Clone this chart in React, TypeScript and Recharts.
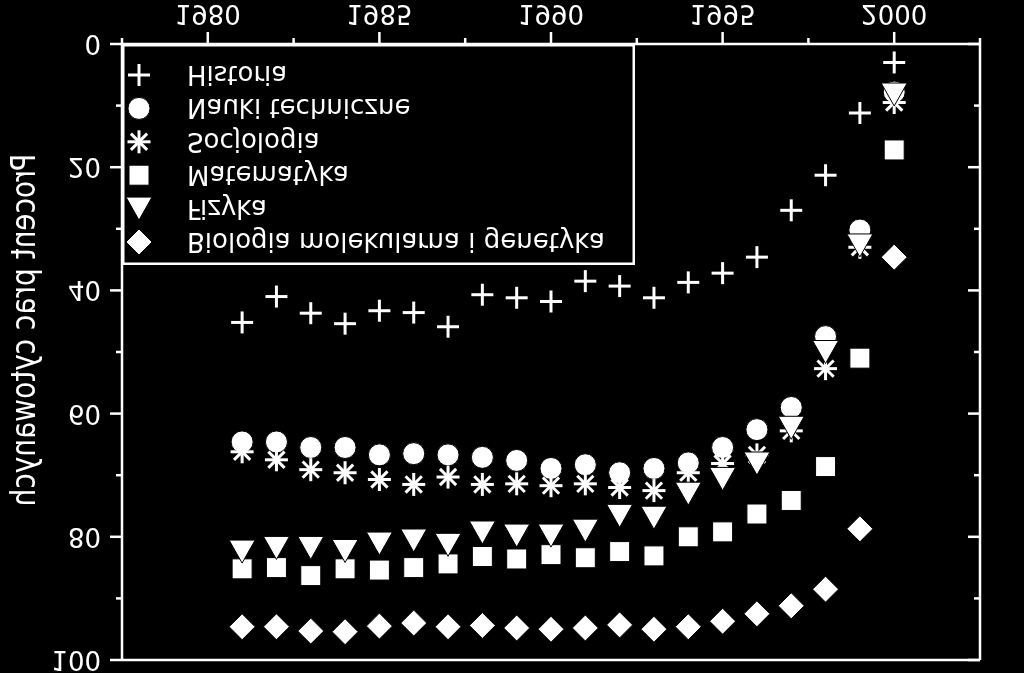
import { ScatterChart, Scatter, XAxis, YAxis, Legend, Label } from 'recharts';

// years on the horizontal axis
const years = [
    1981, 1982, 1983, 1984, 1985, 1986, 1987, 1988, 1989, 1990,
    1991, 1992, 1993, 1994, 1995, 1996, 1997, 1998, 1999, 2000,
];

const historia = [45.2, 41.0, 43.7, 45.4, 43.3, 43.6, 45.9, 40.7, 41.2, 41.8, 38.5, 39.3, 41.2, 38.7, 37.2, 34.6, 27.0, 21.3, 11.2, 3.0];
const naukiTechniczne = [64.6, 64.6, 65.5, 65.5, 66.7, 66.5, 66.7, 67.1, 67.6, 68.9, 68.3, 69.6, 68.9, 68.0, 65.5, 62.6, 59.0, 47.5, 30.2, 7.8];
const socjologia = [66.2, 67.5, 69.1, 69.6, 70.7, 71.5, 70.3, 71.5, 71.4, 71.7, 71.4, 72.0, 72.5, 69.6, 68.1, 66.7, 62.8, 52.7, 33.0, 9.5];
const matematyka = [85.2, 85.0, 86.3, 85.2, 85.4, 85.0, 84.4, 83.2, 83.6, 82.9, 83.4, 82.4, 83.1, 80.0, 79.2, 76.3, 74.1, 68.6, 51.0, 17.2];
const fizyka = [82.4, 81.8, 81.8, 82.3, 81.1, 80.6, 81.3, 79.3, 79.8, 79.8, 79.0, 76.6, 76.9, 73.0, 70.6, 68.1, 62.3, 50.0, 32.7, 8.2];
const biologia = [94.6, 94.6, 95.3, 95.4, 94.5, 94.0, 94.6, 94.4, 94.8, 95.0, 94.8, 94.3, 95.0, 94.6, 93.7, 92.5, 91.2, 88.5, 78.7, 34.6];

const xTicks = [1977.5, 1980, 1982.5, 1985, 1987.5, 1990, 1992.5, 1995, 1997.5, 2000, 2002.5];
const yTicks = [0, 10, 20, 30, 40, 50, 60, 70, 80, 90, 100];

const series = [
    { name: 'Historia', kind: 'plus', values: historia },
    { name: 'Nauki techniczne', kind: 'circle', values: naukiTechniczne },
    { name: 'Socjologia', kind: 'asterisk', values: socjologia },
    { name: 'Matematyka', kind: 'square', values: matematyka },
    { name: 'Fizyka', kind: 'triangle', values: fizyka },
    { name: 'Biologia molekularna i genetyka', kind: 'diamond', values: biologia },
];

const WHITE = '#fff';
const FONT = '"DejaVu Sans", sans-serif';

function Marker({ kind, cx, cy }: { kind: string; cx: number; cy: number }) {
    switch (kind) {
        case 'plus':
            return (
                <g stroke={WHITE} strokeWidth={3}>
                    <line x1={cx - 11} y1={cy} x2={cx + 11} y2={cy} />
                    <line x1={cx} y1={cy - 11} x2={cx} y2={cy + 11} />
                </g>
            );
        case 'circle':
            return <circle cx={cx} cy={cy} r={11} fill={WHITE} stroke="#000" strokeWidth={1} />;
        case 'asterisk':
            return (
                <g stroke={WHITE} strokeWidth={3}>
                    {[0, 45, 90, 135].map(a => {
                        const r = (a * Math.PI) / 180;
                        const dx = Math.cos(r) * 11.5;
                        const dy = Math.sin(r) * 11.5;
                        return <line key={a} x1={cx - dx} y1={cy - dy} x2={cx + dx} y2={cy + dy} />;
                    })}
                </g>
            );
        case 'square':
            return <rect x={cx - 10} y={cy - 10} width={20} height={20} fill={WHITE} stroke="#000" strokeWidth={1} />;
        case 'triangle':
            // drawn pointing up: the whole figure is mirrored vertically
            return (
                <polygon
                    points={`${cx},${cy - 11.5} ${cx + 13},${cy + 11.5} ${cx - 13},${cy + 11.5}`}
                    fill={WHITE}
                    stroke="#000"
                    strokeWidth={1}
                />
            );
        default:
            return (
                <polygon
                    points={`${cx},${cy - 13} ${cx + 13},${cy} ${cx},${cy + 13} ${cx - 13},${cy}`}
                    fill={WHITE}
                    stroke="#000"
                    strokeWidth={1}
                />
            );
    }
}

const tickLen = (major: boolean) => (major ? 12 : 6);

const renderXTick = (side: 'bottom' | 'top') => (props: any) => {
    const { x, y, payload } = props;
    const v = payload.value;
    const major = v % 5 === 0;
    const len = tickLen(major);
    if (side === 'top') {
        return <line x1={x} x2={x} y1={y} y2={y + len} stroke={WHITE} strokeWidth={2.5} />;
    }
    return (
        <g>
            <line x1={x} x2={x} y1={y} y2={y + len} stroke={WHITE} strokeWidth={2.5} />
            {major && (
                <text x={x} y={y + 30} textAnchor="middle" dominantBaseline="central" fill={WHITE} fontSize={26} fontFamily={FONT}>
                    {v}
                </text>
            )}
        </g>
    );
};

const renderYTick = (side: 'left' | 'right') => (props: any) => {
    const { x, y, payload } = props;
    const v = payload.value;
    const major = v % 20 === 0;
    const len = tickLen(major);
    if (side === 'right') {
        return <line x1={x - len} x2={x} y1={y} y2={y} stroke={WHITE} strokeWidth={2.5} />;
    }
    return (
        <g>
            <line x1={x - len} x2={x} y1={y} y2={y} stroke={WHITE} strokeWidth={2.5} />
            {major && (
                <text x={x - 21} y={y} textAnchor="end" dominantBaseline="central" fill={WHITE} fontSize={26} fontFamily={FONT}>
                    {v}
                </text>
            )}
        </g>
    );
};

function LegendBox({ payload }: any) {
    const items = (payload || []) as any[];
    return (
        <svg width={513} height={221} style={{ display: 'block' }}>
            <rect x={1.25} y={1.25} width={510.5} height={218.5} fill="#000" stroke={WHITE} strokeWidth={2.5} />
            {items.map(item => {
                const idx = series.findIndex(s => s.name === item.value);
                const cy = 190 - idx * 33.4;
                return (
                    <g key={item.value}>
                        <Marker kind={series[idx].kind} cx={17} cy={cy} />
                        <text x={65} y={cy} dominantBaseline="central" fill={WHITE} fontSize={26} fontFamily={FONT}>
                            {item.value}
                        </text>
                    </g>
                );
            })}
        </svg>
    );
}

const axisLine = { stroke: WHITE, strokeWidth: 2.5 };

export default function App() {
    return (
        <div
            style={{
                position: 'fixed',
                left: 0,
                top: 0,
                width: 1024,
                height: 673,
                background: '#000',
                transform: 'scaleY(-1)',
                fontFamily: FONT,
            }}
        >
            <ScatterChart width={1024} height={673} margin={{ top: 0, right: 0, bottom: 0, left: 0 }}>
                <XAxis
                    xAxisId="b"
                    type="number"
                    dataKey="year"
                    orientation="bottom"
                    domain={[1977.5, 2002.5]}
                    ticks={xTicks}
                    interval={0}
                    height={44}
                    axisLine={axisLine}
                    tickLine={false}
                    tickSize={0}
                    tickMargin={0}
                    tick={renderXTick('bottom')}
                    allowDataOverflow
                />
                <XAxis
                    xAxisId="t"
                    type="number"
                    orientation="top"
                    domain={[1977.5, 2002.5]}
                    ticks={xTicks}
                    interval={0}
                    height={13}
                    axisLine={axisLine}
                    tickLine={false}
                    tickSize={0}
                    tickMargin={0}
                    tick={renderXTick('top')}
                    allowDataOverflow
                />
                <YAxis
                    yAxisId="l"
                    type="number"
                    dataKey="value"
                    orientation="left"
                    domain={[0, 100]}
                    ticks={yTicks}
                    interval={0}
                    width={122}
                    axisLine={axisLine}
                    tickLine={false}
                    tickSize={0}
                    tickMargin={0}
                    tick={renderYTick('left')}
                    allowDataOverflow
                >
                    <Label
                        content={(p: any) => {
                            const vb = p.viewBox || { x: 0, y: 13, width: 122, height: 616 };
                            const cy = vb.y + vb.height / 2 + 22;
                            return (
                                <text
                                    transform={`translate(23, ${cy}) rotate(-90) scale(1, 1.2)`}
                                    textAnchor="middle"
                                    dominantBaseline="central"
                                    fill={WHITE}
                                    fontSize={28}
                                    fontFamily={FONT}
                                >
                                    Procent prac cytowanych
                                </text>
                            );
                        }}
                    />
                </YAxis>
                <YAxis
                    yAxisId="r"
                    type="number"
                    orientation="right"
                    domain={[0, 100]}
                    ticks={yTicks}
                    interval={0}
                    width={44}
                    axisLine={axisLine}
                    tickLine={false}
                    tickSize={0}
                    tickMargin={0}
                    tick={renderYTick('right')}
                    allowDataOverflow
                />
                <Legend
                    layout="vertical"
                    align="center"
                    verticalAlign="middle"
                    wrapperStyle={{ left: 122, top: 408, width: 513, height: 221 }}
                    content={<LegendBox />}
                />
                {series.map(s => (
                    <Scatter
                        key={s.name}
                        name={s.name}
                        xAxisId="b"
                        yAxisId="l"
                        data={years.map((year, i) => ({ year, value: s.values[i] }))}
                        fill={WHITE}
                        shape={(p: any) => <Marker kind={s.kind} cx={p.cx} cy={p.cy} />}
                        isAnimationActive={false}
                    />
                ))}
            </ScatterChart>
        </div>
    );
}
